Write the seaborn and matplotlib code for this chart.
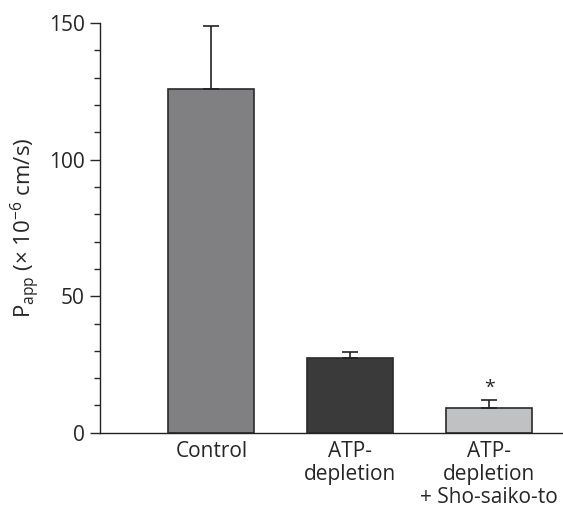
import numpy as np
import pandas as pd
import matplotlib
matplotlib.use('Agg')
import matplotlib.pyplot as plt
import seaborn as sns
from matplotlib.ticker import MultipleLocator

categories = ['Control', 'ATP-\ndepletion', 'ATP-\ndepletion\n+ Sho-saiko-to']
papp_mean = [126, 27.5, 9.0]
papp_err = [23, 2.1, 3.1]
significance = ['', '', '*']
bar_colors = ['#808083', '#3a3a3a', '#c0c1c3']

sns.set_style('ticks')
plt.rcParams['font.family'] = ['Open Sans', 'DejaVu Sans']
plt.rcParams['mathtext.default'] = 'regular'

df = pd.DataFrame({'group': categories, 'papp': papp_mean})

fig = plt.figure(figsize=(5.63, 5.11), dpi=100)
ax = fig.add_axes([0.178, 0.153, 0.822, 0.802])

sns.barplot(data=df, x='group', y='papp', hue='group', palette=bar_colors,
            width=0.62, edgecolor='#2a2a2a', linewidth=1.2, legend=False, ax=ax)

centers = [p.get_x() + p.get_width() / 2 for p in ax.patches]
ax.errorbar(centers, papp_mean, yerr=[np.zeros(len(papp_err)), papp_err],
            fmt='none', ecolor='#222222', elinewidth=1.2, capsize=6, capthick=1.2, zorder=1)

for xc, m, e, s in zip(centers, papp_mean, papp_err, significance):
    if s:
        ax.annotate(s, (xc, m + e), xytext=(0, 2), textcoords='offset points',
                    ha='center', va='bottom', fontsize=14)

ax.set_ylim(0, 150)
ax.set_xlim(-0.80, 2.53)
ax.yaxis.set_major_locator(MultipleLocator(50))
ax.yaxis.set_minor_locator(MultipleLocator(10))
ax.tick_params(axis='y', which='major', length=7, width=1, labelsize=15, pad=4)
ax.tick_params(axis='y', which='minor', length=4, width=1)
ax.tick_params(axis='x', length=0, labelsize=15, pad=6)
for lbl in ax.get_xticklabels():
    lbl.set_linespacing(1.12)
ax.set_xlabel('')
ax.set_ylabel('P$_{app}$ (× 10$^{-6}$ cm/s)', fontsize=16, labelpad=5)
sns.despine(ax=ax)
for sp in ['left', 'bottom']:
    ax.spines[sp].set_linewidth(1)
    ax.spines[sp].set_color('#222222')

fig.savefig('out.png', dpi=100)
